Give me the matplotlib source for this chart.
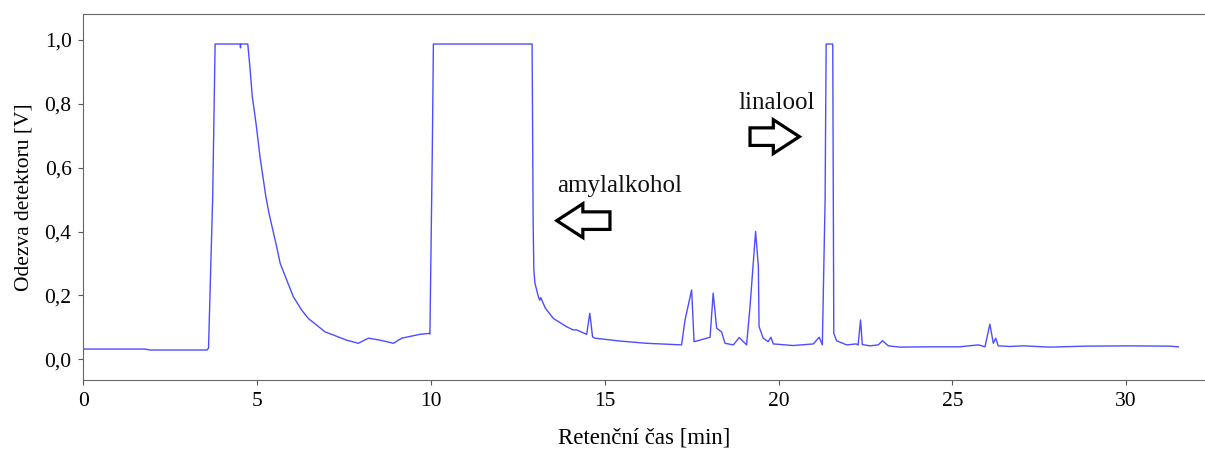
import numpy as np
import matplotlib.pyplot as plt
from matplotlib.patches import FancyArrow

# chromatogram: retention time [min], detector response [V]
time_min = [0.00, 1.77, 1.92, 3.56, 3.60, 3.72, 3.79, 4.51, 4.52, 4.53, 4.73,
             4.79, 4.86, 4.94, 4.99, 5.08, 5.15, 5.25, 5.34, 5.45, 5.56, 5.66,
             5.85, 6.04, 6.28, 6.47, 6.71, 6.95, 7.19, 7.57, 7.91,
             8.20, 8.53, 8.92, 9.16, 9.68, 9.95, 9.97, 10.04, 10.07, 12.91,
             12.94, 12.96, 12.99, 13.09, 13.13, 13.16, 13.29, 13.52, 13.90,
             14.09, 14.19, 14.48, 14.57, 14.65, 14.72, 15.44, 16.21, 17.21,
             17.31, 17.50, 17.57, 17.74, 18.03, 18.12, 18.22, 18.36, 18.46,
             18.70, 18.87, 19.08, 19.18, 19.34, 19.42, 19.44, 19.56, 19.70,
             19.78, 19.85, 20.42, 21.00, 21.17, 21.26, 21.34, 21.37, 21.56,
             21.59, 21.67, 21.96, 22.23, 22.29, 22.36, 22.41, 22.63, 22.87,
             22.99, 23.16, 23.49, 24.35, 25.21, 25.75, 25.94, 26.08, 26.18,
             26.25, 26.32, 26.66, 27.04, 27.81, 28.81, 30.11, 31.26, 31.50]
signal_v = [0.032, 0.032, 0.029, 0.029, 0.035, 0.508, 0.987, 0.987, 0.975, 0.987, 0.987,
            0.916, 0.822, 0.760, 0.718, 0.635, 0.583, 0.509, 0.457, 0.405, 0.353, 0.301,
            0.248, 0.196, 0.154, 0.128, 0.107, 0.086, 0.076, 0.060, 0.050,
            0.066, 0.060, 0.050, 0.066, 0.078, 0.081, 0.079, 0.665, 0.987, 0.987,
            0.427, 0.280, 0.239, 0.196, 0.185, 0.193, 0.160, 0.128, 0.102,
            0.092, 0.092, 0.078, 0.144, 0.070, 0.066, 0.057, 0.050, 0.045,
            0.123, 0.217, 0.055, 0.060, 0.069, 0.207, 0.097, 0.086, 0.050,
            0.045, 0.068, 0.045, 0.165, 0.400, 0.290, 0.102, 0.066, 0.055,
            0.069, 0.048, 0.043, 0.048, 0.069, 0.045, 0.499, 0.987, 0.987,
            0.081, 0.058, 0.045, 0.048, 0.045, 0.123, 0.046, 0.042, 0.045,
            0.058, 0.042, 0.038, 0.039, 0.039, 0.045, 0.039, 0.110, 0.050,
            0.066, 0.042, 0.040, 0.042, 0.038, 0.041, 0.042, 0.041, 0.039]

x_ticks = [0, 5, 10, 15, 20, 25, 30]
y_ticks = [0.0, 0.2, 0.4, 0.6, 0.8, 1.0]
y_tick_labels = ["0,0", "0,2", "0,4", "0,6", "0,8", "1,0"]

# peak labels: text, text position, arrow tail x, arrow tip x, arrow y
labels = ["amylalkohol", "linalool"]
label_pos = [(13.62, 0.525), (18.84, 0.784)]
arrow_tail = [15.15, 19.18]
arrow_tip = [13.62, 20.60]
arrow_y = [0.434, 0.697]

plt.rcParams['font.family'] = ['Liberation Serif', 'DejaVu Serif']

fig = plt.figure(figsize=(12.05, 4.53), dpi=100)
ax = fig.add_axes([0.0692, 0.1611, 0.9308, 0.808])

ax.plot(time_min, signal_v, color='#4d4dff', lw=1.0)

for txt, pos, x0, x1, y in zip(labels, label_pos, arrow_tail, arrow_tip, arrow_y):
    ax.text(pos[0], pos[1], txt, fontsize=18, color='#111111', va='baseline', ha='left')
    ax.add_patch(FancyArrow(x0, y, x1 - x0, 0, width=0.055, head_width=0.106,
                            head_length=0.75, length_includes_head=True,
                            fc='white', ec='black', lw=2.3, joinstyle='miter'))

ax.set_xlim(0, 32.27)
ax.set_ylim(-0.065, 1.081)
ax.set_xticks(x_ticks)
ax.set_yticks(y_ticks)
ax.set_yticklabels(y_tick_labels)
ax.tick_params(labelsize=15.5, length=3.5, color='#555555', pad=5)

ax.set_xlabel("Retenční čas [min]", fontsize=16.5, labelpad=12)
ax.set_ylabel("Odezva detektoru [V]", fontsize=15.5, labelpad=8)

for s in ['left', 'top', 'bottom']:
    ax.spines[s].set_color('#666666')
ax.spines['right'].set_visible(False)

fig.savefig('out.png', dpi=100)
